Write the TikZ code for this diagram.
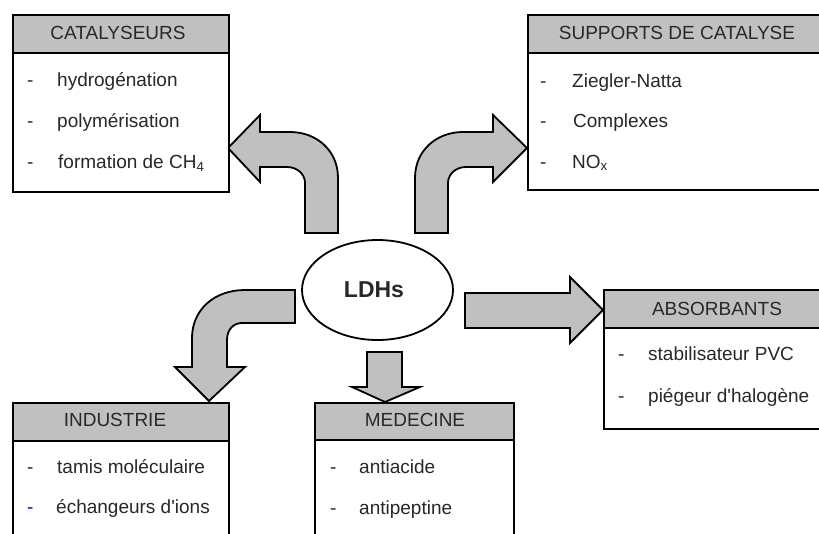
\documentclass[tikz,border=0pt]{standalone}
\usepackage{fontspec}
\setmainfont{Liberation Sans}
\usetikzlibrary{calc,shapes.geometric}
\definecolor{hdrgray}{RGB}{192,192,192}
\definecolor{arrgray}{RGB}{192,192,192}
\definecolor{txt}{RGB}{40,40,40}
\newcommand{\itemfont}{\fontsize{19}{22}\selectfont}
\tikzset{
  hdrbox/.style={draw=black, line width=2pt, fill=hdrgray, anchor=north west, inner sep=0pt, font=\itemfont, text=txt},
  bodybox/.style={draw=black, line width=2pt, fill=white, anchor=north west, inner sep=0pt},
  itemtxt/.style={anchor=base west, inner sep=0pt, font=\itemfont, text=txt},
  hdrtxt/.style={anchor=base, inner sep=0pt, font=\itemfont, text=txt},
  blockarrow/.style={draw=black, line width=1.8pt, fill=arrgray, line join=miter},
}
\begin{document}
\begin{tikzpicture}[x=1pt,y=-1pt]
\clip (0,0) rectangle (819,533);
\fill[white] (0,0) rectangle (819,533);

% ---------- block arrows ----------
% to CATALYSEURS
\draw[blockarrow] (260,132) -- (290,132) .. controls (316,132) and (338,150) .. (338,178)
  -- (338,233) -- (305,233) -- (305,183) .. controls (305,174) and (297,167) .. (287,167)
  -- (260,167) -- (260,182) -- (228,148) -- (260,115) -- cycle;
% to SUPPORTS
\draw[blockarrow] (415,233) -- (415,178) .. controls (415,150) and (437,132) .. (463,132)
  -- (493,132) -- (493,115) -- (527,148) -- (493,182) -- (493,167) -- (466,167)
  .. controls (456,167) and (448,174) .. (448,183) -- (448,233) -- cycle;
% to ABSORBANTS
\draw[blockarrow] (465,293) -- (570,293) -- (570,277) -- (603,310) -- (570,343) -- (570,328) -- (465,328) -- cycle;
% to MEDECINE
\draw[blockarrow] (367,352) -- (402,352) -- (402,387) -- (420,387) -- (385,402) -- (352,387) -- (367,387) -- cycle;
% to INDUSTRIE
\draw[blockarrow] (295,290) -- (295,323) -- (242,323) .. controls (233,323) and (227,330) .. (227,340)
  -- (227,367) -- (245,367) -- (209,401) -- (175,367) -- (192,367) -- (192,338)
  .. controls (192,310) and (214,290) .. (245,290) -- cycle;

% ---------- centre ----------
\node[draw=black, line width=1.8pt, fill=white, ellipse, minimum width=151pt, minimum height=100pt, inner sep=0pt] (ldh) at (377.5,290) {};
\node[anchor=base, inner sep=0pt, font=\fontsize{23}{27}\selectfont\bfseries, text=txt] (ldht) at (374,297) {LDHs};

% ---------- CATALYSEURS ----------
\node[bodybox, minimum width=216pt, minimum height=139pt] (catb) at (12,52) {};
\node[hdrbox, minimum width=216pt, minimum height=38pt] (cath) at (12,14) {};
\node[hdrtxt] (catt) at (118,39) {CATALYSEURS};
\node[itemtxt] (cd1) at (27,86) {-};
\node[itemtxt] (ci1) at (57,86) {hydrogénation};
\node[itemtxt] (cd2) at (27,127) {-};
\node[itemtxt] (ci2) at (57,127) {polymérisation};
\node[itemtxt] (cd3) at (27,168) {-};
\node[itemtxt] (ci3) at (58,168) {formation de CH\textsubscript{4}};

% ---------- SUPPORTS DE CATALYSE ----------
\node[bodybox, minimum width=300pt, minimum height=137pt] (supb) at (527,52) {};
\node[hdrbox, minimum width=300pt, minimum height=38pt] (suph) at (527,14) {};
\node[hdrtxt] (supt) at (677,39) {SUPPORTS DE CATALYSE};
\node[itemtxt] (sd1) at (540,87) {-};
\node[itemtxt] (si1) at (572,87) {Ziegler-Natta};
\node[itemtxt] (sd2) at (540,127) {-};
\node[itemtxt] (si2) at (573,127) {Complexes};
\node[itemtxt] (sd3) at (540,168) {-};
\node[itemtxt] (si3) at (572,168) {NO\textsubscript{x}};

% ---------- ABSORBANTS ----------
\node[bodybox, minimum width=230pt, minimum height=101pt] (absb) at (603,327) {};
\node[hdrbox, minimum width=230pt, minimum height=38pt] (absh) at (603,289) {};
\node[hdrtxt] (abst) at (717,315) {ABSORBANTS};
\node[itemtxt] (ad1) at (618,360) {-};
\node[itemtxt] (ai1) at (648,360) {stabilisateur PVC};
\node[itemtxt] (ad2) at (618,402) {-};
\node[itemtxt] (ai2) at (648,402) {piégeur d\textquotesingle halogène};

% ---------- INDUSTRIE ----------
\node[bodybox, minimum width=216pt, minimum height=120pt] (indb) at (12,440) {};
\node[hdrbox, minimum width=216pt, minimum height=38pt] (indh) at (12,402) {};
\node[hdrtxt] (indt) at (115,426) {INDUSTRIE};
\node[itemtxt] (id1) at (27,473) {-};
\node[itemtxt] (ii1) at (57,473) {tamis moléculaire};
\node[itemtxt, text=blue] (id2) at (27,513) {-};
\node[itemtxt] (ii2) at (56,513) {échangeurs d\textquotesingle ions};

% ---------- MEDECINE ----------
\node[bodybox, minimum width=199pt, minimum height=120pt] (medb) at (314,439) {};
\node[hdrbox, minimum width=199pt, minimum height=37pt] (medh) at (314,402) {};
\node[hdrtxt] (medt) at (415,426) {MEDECINE};
\node[itemtxt] (md1) at (330,473) {-};
\node[itemtxt] (mi1) at (359,473) {antiacide};
\node[itemtxt] (md2) at (330,514) {-};
\node[itemtxt] (mi2) at (359,514) {antipeptine};
\end{tikzpicture}
\end{document}
